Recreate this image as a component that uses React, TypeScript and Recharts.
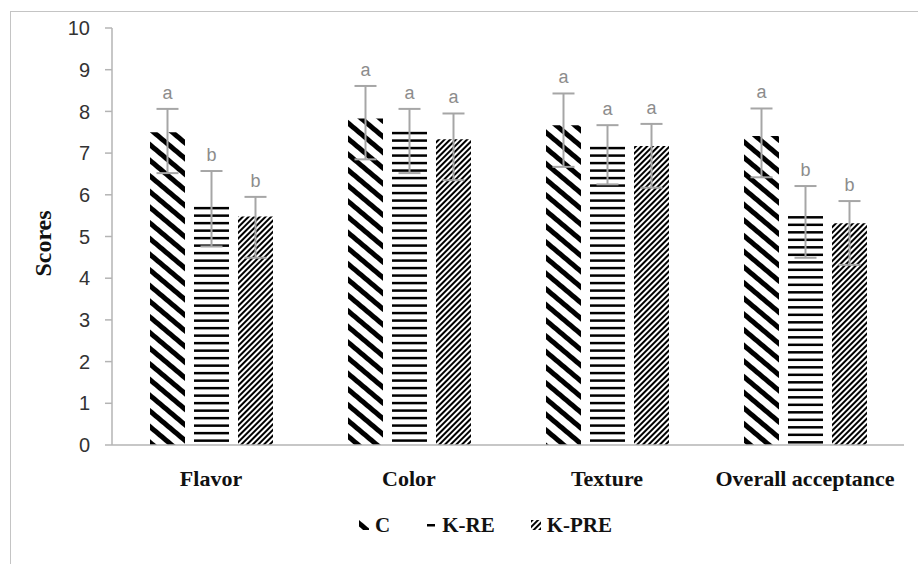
import React from 'react';
import { BarChart, Bar, XAxis, YAxis, ErrorBar, LabelList, Legend } from 'recharts';

const categories = ['Flavor', 'Color', 'Texture', 'Overall acceptance'];
const seriesNames = ['C', 'K-RE', 'K-PRE'];

const cMean = [7.5, 7.83, 7.67, 7.41];
const cErrLow = [0.98, 0.98, 1.0, 0.99];
const cErrHigh = [0.56, 0.78, 0.76, 0.66];
const cLetters = ['a', 'a', 'a', 'a'];

const reMean = [5.71, 7.51, 7.15, 5.49];
const reErrLow = [0.95, 0.99, 0.9, 1.0];
const reErrHigh = [0.86, 0.55, 0.52, 0.72];
const reLetters = ['b', 'a', 'a', 'b'];

const preMean = [5.48, 7.33, 7.17, 5.32];
const preErrLow = [0.99, 0.98, 1.0, 1.0];
const preErrHigh = [0.47, 0.62, 0.53, 0.53];
const preLetters = ['b', 'a', 'a', 'b'];

const yTicks = [0, 1, 2, 3, 4, 5, 6, 7, 8, 9, 10];

const data = categories.map((name, i) => ({
  name,
  c: cMean[i],
  cErr: [cErrLow[i], cErrHigh[i]],
  cLetter: cLetters[i],
  re: reMean[i],
  reErr: [reErrLow[i], reErrHigh[i]],
  reLetter: reLetters[i],
  pre: preMean[i],
  preErr: [preErrLow[i], preErrHigh[i]],
  preLetter: preLetters[i],
}));

const serif = '"Liberation Serif", "Times New Roman", serif';
const sans = '"Liberation Sans", Arial, sans-serif';
const gridGray = '#b4b4b4';
const errGray = '#a6a6a6';

const makeLetter = (means: number[], highs: number[], letters: string[]) => (props: any) => {
  const { x, y, width, height, index } = props;
  const v = means[index];
  const perUnit = v ? height / v : 0;
  const topY = y - highs[index] * perUnit;
  return (
    <text
      x={x + width / 2}
      y={topY - 10}
      textAnchor="middle"
      fontFamily={sans}
      fontSize={18}
      fill="#8c8c8c"
    >
      {letters[index]}
    </text>
  );
};

// horizontal-line bar, lines start right at the bar top
const LinesBar = (props: any) => {
  const { x, y, width, height } = props;
  if (!height || height <= 0) return null;
  const lines = [];
  const pitch = 7.5;
  for (let yy = y; yy + 2 <= y + height; yy += pitch) {
    lines.push(<rect key={yy} x={x} y={yy} width={width} height={2.5} fill="#000" />);
  }
  return (
    <g>
      <rect x={x} y={y} width={width} height={height} fill="#fff" />
      {lines}
    </g>
  );
};

const patternIds = ['patC', 'patLegendRE', 'patPRE'];

const LegendContent = () => (
  <div
    style={{
      display: 'flex',
      justifyContent: 'center',
      alignItems: 'center',
      height: 30,
      paddingLeft: 52,
      fontFamily: serif,
      fontWeight: 'bold',
      fontSize: 21,
      color: '#111',
    }}
  >
    {seriesNames.map((n, i) => (
      <div key={n} style={{ display: 'flex', alignItems: 'center', marginLeft: i === 0 ? 0 : 36 }}>
        <svg width={10} height={10} style={{ marginRight: 6 }}>
          {i === 1 ? (
            <rect x={1} y={4} width={8} height={2.5} fill="#000" />
          ) : (
            <rect x={0} y={0} width={10} height={10} fill={`url(#${patternIds[i]})`} />
          )}
        </svg>
        <span>{n}</span>
      </div>
    ))}
  </div>
);

const ScoresLabel = (props: any) => {
  const { viewBox } = props;
  const cy = viewBox.y + viewBox.height / 2 + 7;
  const cx = 43;
  return (
    <text
      x={cx}
      y={cy}
      transform={`rotate(-90, ${cx}, ${cy})`}
      textAnchor="middle"
      dominantBaseline="central"
      fontFamily={serif}
      fontWeight="bold"
      fontSize={24}
      fill="#111"
    >
      Scores
    </text>
  );
};

export default function App() {
  return (
    <div style={{ position: 'absolute', left: 0, top: 0, width: 919, height: 564, background: '#fff' }}>
      <div
        style={{
          position: 'absolute',
          left: 10,
          top: 11,
          width: 908,
          height: 560,
          borderTop: '1.5px solid #c4c4c4',
          borderLeft: '1.5px solid #c4c4c4',
          boxSizing: 'border-box',
        }}
      />
      <BarChart
        width={919}
        height={564}
        data={data}
        margin={{ top: 28, right: 15, left: 0, bottom: 24 }}
        barSize={35}
        barGap={9}
        style={{ position: 'absolute', left: 0, top: 0 }}
      >
        <defs>
          <pattern id="patC" width={12} height={12} patternUnits="userSpaceOnUse" patternTransform="rotate(40)">
            <rect x={0} y={0} width={12} height={12} fill="#fff" />
            <rect x={0} y={0} width={12} height={5} fill="#000" />
          </pattern>
          <pattern id="patPRE" width={4} height={4} patternUnits="userSpaceOnUse" patternTransform="rotate(-45)">
            <rect x={0} y={0} width={4} height={4} fill="#fff" />
            <rect x={0} y={0} width={4} height={2} fill="#000" />
          </pattern>
        </defs>
        <XAxis
          dataKey="name"
          tickLine={false}
          tickMargin={19}
          height={65}
          axisLine={{ stroke: gridGray, strokeWidth: 1.5 }}
          tick={{ fontFamily: serif, fontWeight: 'bold', fontSize: 22, fill: '#111' }}
        />
        <YAxis
          width={112}
          domain={[0, 10]}
          ticks={yTicks}
          interval={0}
          tickSize={7}
          tickMargin={15}
          axisLine={{ stroke: gridGray, strokeWidth: 1.5 }}
          tickLine={{ stroke: gridGray, strokeWidth: 1.5 }}
          tick={{ fontFamily: sans, fontSize: 20, fill: '#333' }}
          label={<ScoresLabel />}
        />
        <Legend verticalAlign="bottom" content={<LegendContent />} wrapperStyle={{ left: 0, width: 919 }} />
        <Bar dataKey="c" name="C" fill="url(#patC)" isAnimationActive={false}>
          <ErrorBar dataKey="cErr" direction="y" width={11} stroke={errGray} strokeWidth={2} />
          <LabelList dataKey="cLetter" content={makeLetter(cMean, cErrHigh, cLetters)} />
        </Bar>
        <Bar dataKey="re" name="K-RE" fill="#000" shape={<LinesBar />} isAnimationActive={false}>
          <ErrorBar dataKey="reErr" direction="y" width={11} stroke={errGray} strokeWidth={2} />
          <LabelList dataKey="reLetter" content={makeLetter(reMean, reErrHigh, reLetters)} />
        </Bar>
        <Bar dataKey="pre" name="K-PRE" fill="url(#patPRE)" isAnimationActive={false}>
          <ErrorBar dataKey="preErr" direction="y" width={11} stroke={errGray} strokeWidth={2} />
          <LabelList dataKey="preLetter" content={makeLetter(preMean, preErrHigh, preLetters)} />
        </Bar>
      </BarChart>
    </div>
  );
}
